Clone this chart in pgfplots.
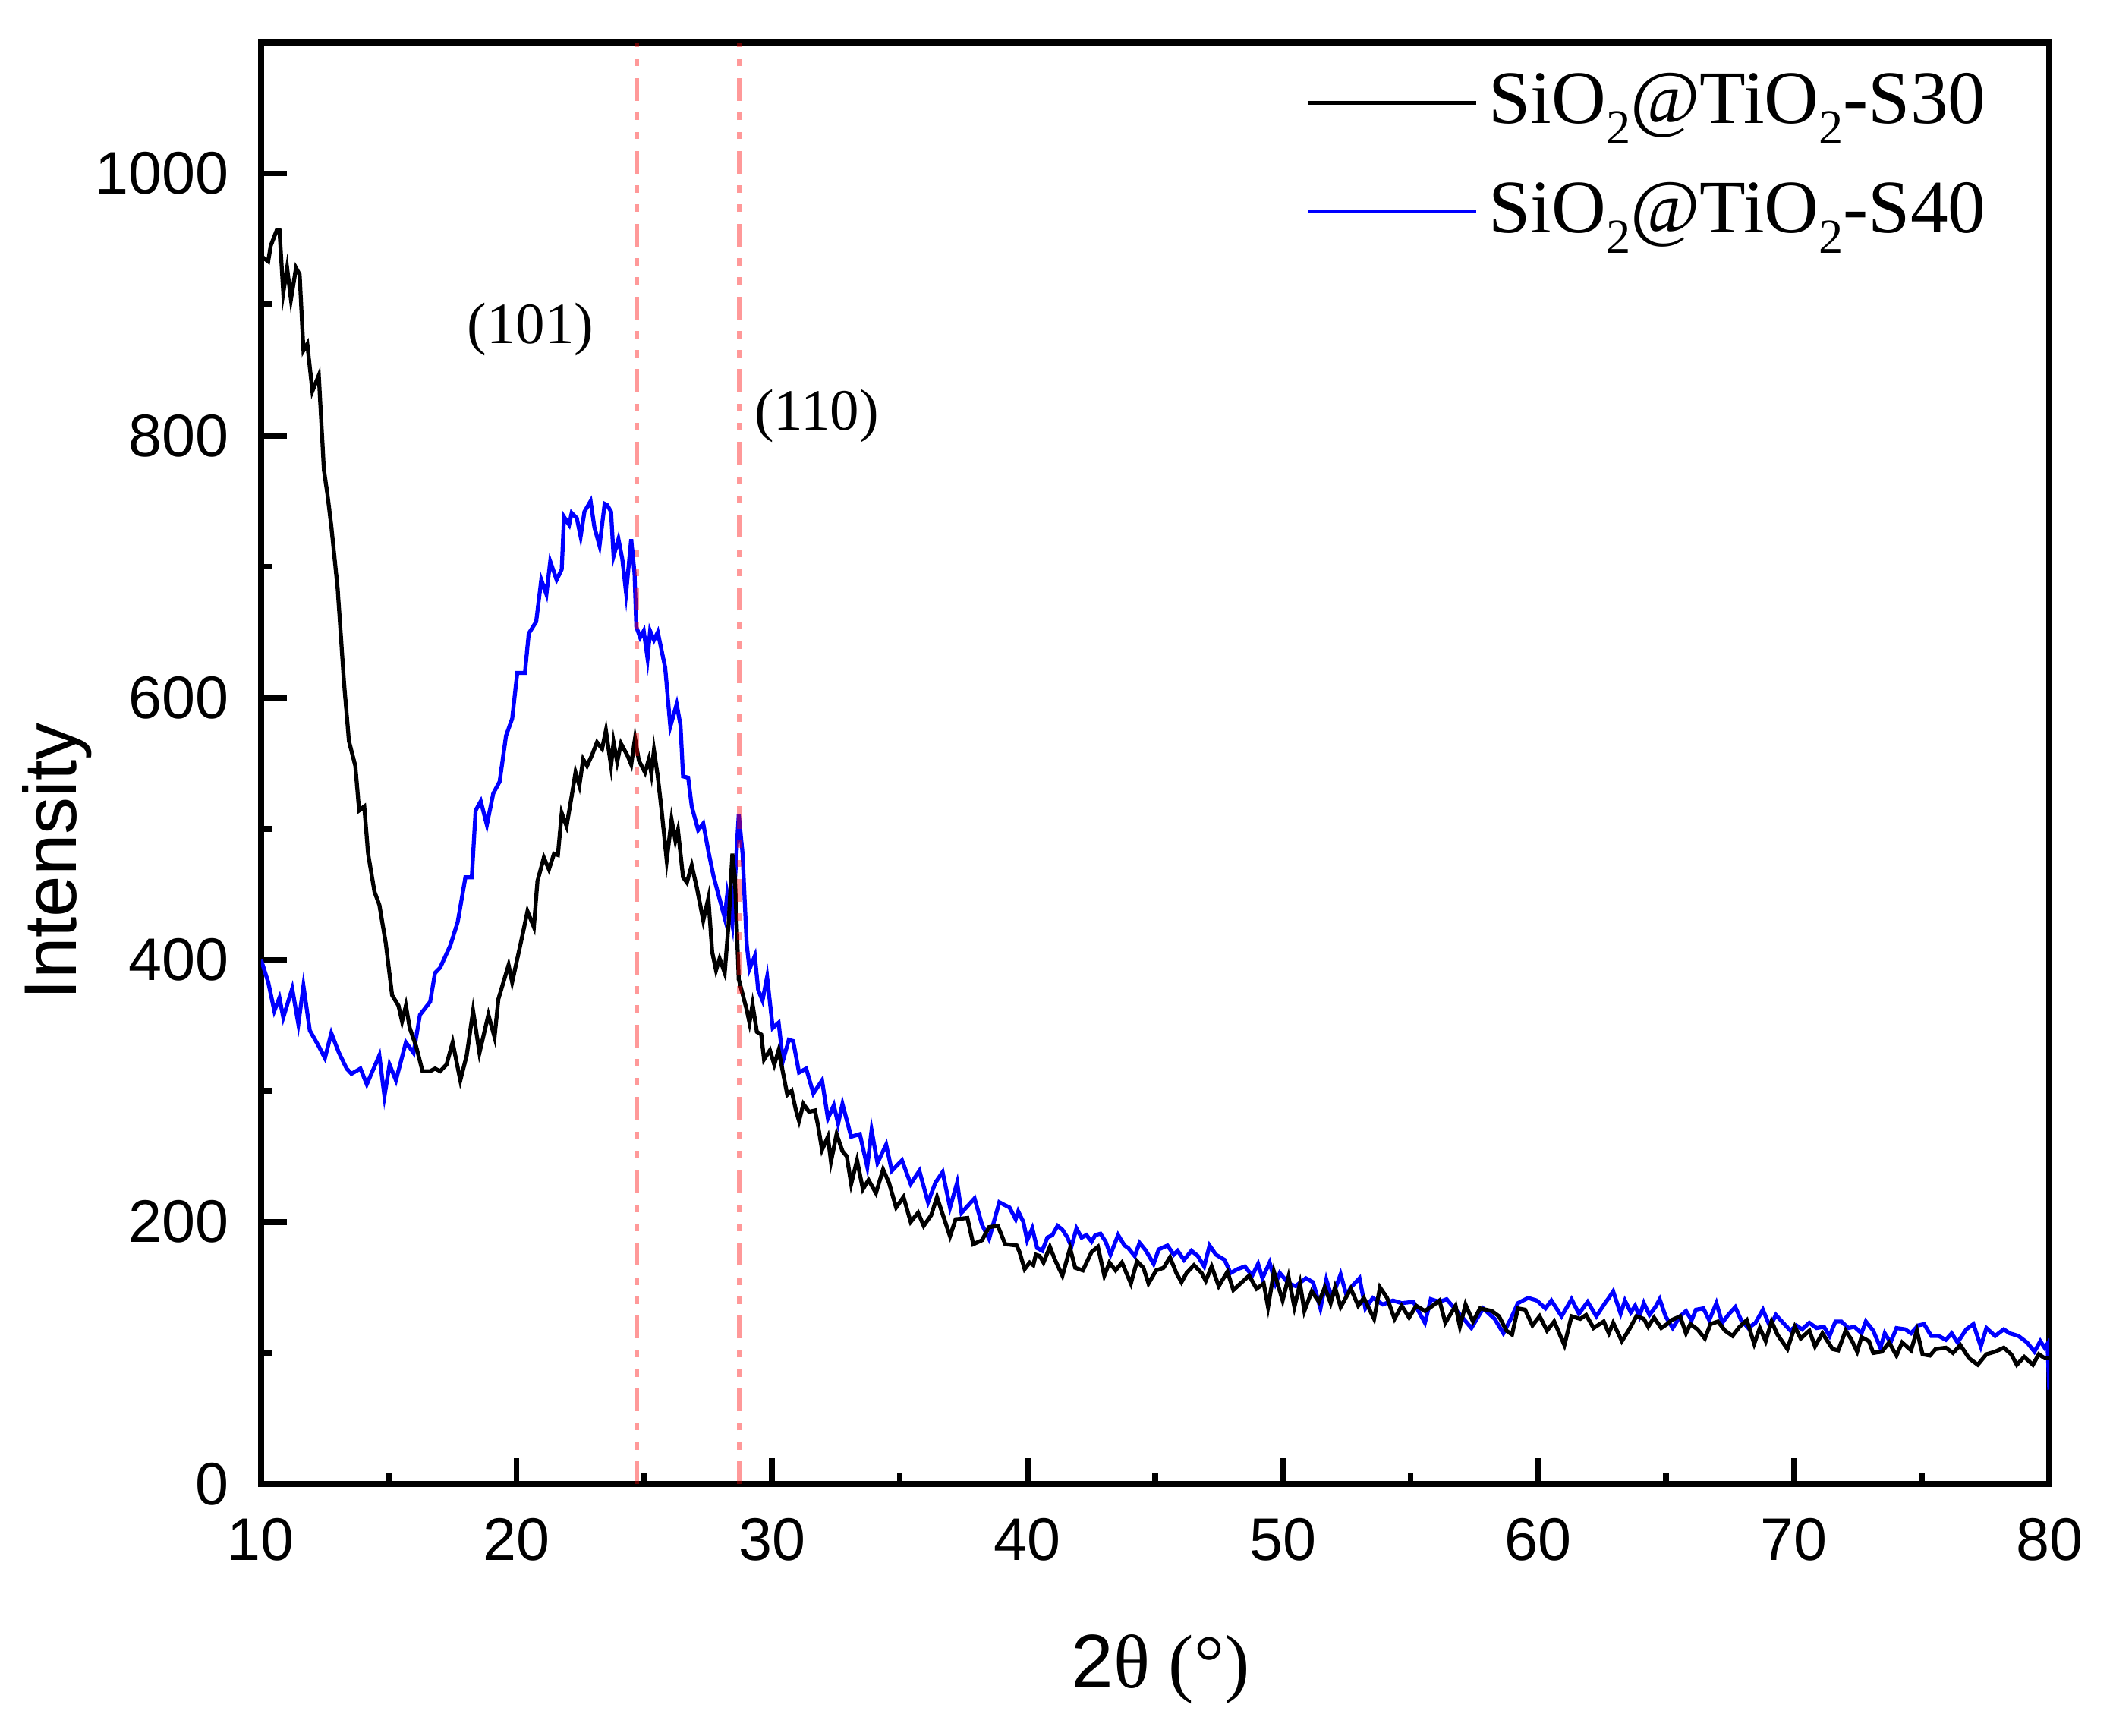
\documentclass[border=0pt]{standalone}
\usepackage{fontspec}
\setmainfont{Liberation Sans}
\newfontfamily\serif{Liberation Serif}
\usepackage{pgfplots}
\pgfplotsset{compat=1.18}
\newcommand{\low}[1]{\raisebox{-0.27em}{\fontsize{9.2}{10}\selectfont #1}}

\pgfplotstableread{
x y
10.0 937
10.28 933
10.38 945
10.62 957
10.72 957
10.87 909
11.02 928
11.17 904
11.37 928
11.51 923
11.66 865
11.81 870
12.01 834
12.26 846
12.46 774
12.6 755
12.75 731
13.0 683
13.25 611
13.44 567
13.69 548
13.84 514
14.04 517
14.19 481
14.44 452
14.63 442
14.88 413
15.13 373
15.38 365
15.52 353
15.67 365
15.82 348
16.07 334
16.32 315
16.62 315
16.81 317
17.01 315
17.26 320
17.5 337
17.8 308
18.05 327
18.3 361
18.55 329
18.9 358
19.14 341
19.29 370
19.69 396
19.83 383
20.18 414
20.43 437
20.68 425
20.82 460
21.07 478
21.27 469
21.47 481
21.62 480
21.77 512
21.96 502
22.16 525
22.31 543
22.46 533
22.61 553
22.76 548
22.95 556
23.15 566
23.35 561
23.5 575
23.7 548
23.8 566
23.94 551
24.09 565
24.34 556
24.49 549
24.64 569
24.79 552
25.03 543
25.18 553
25.28 542
25.38 560
25.53 540
25.68 514
25.88 476
26.07 507
26.22 491
26.32 499
26.52 463
26.67 459
26.86 472
27.06 455
27.31 430
27.51 447
27.66 406
27.81 392
27.95 401
28.15 390
28.3 427
28.45 481
28.55 463
28.7 385
29.01 362
29.12 352
29.24 366
29.41 345
29.58 343
29.69 324
29.92 331
30.09 320
30.26 331
30.49 308
30.6 297
30.77 300
30.94 285
31.06 277
31.23 290
31.45 284
31.68 285
31.8 274
31.96 255
32.19 265
32.31 246
32.53 267
32.76 254
32.93 250
33.1 229
33.33 247
33.56 225
33.78 232
34.07 222
34.35 240
34.58 230
34.86 211
35.15 219
35.43 200
35.72 207
35.94 197
36.23 205
36.46 219
36.68 206
36.97 189
37.19 202
37.65 203
37.88 183
38.22 186
38.5 196
38.84 197
39.13 183
39.58 182
39.69 177
39.89 164
40.09 169
40.23 167
40.33 175
40.48 174
40.63 169
40.88 181
41.08 171
41.37 159
41.67 180
41.87 165
42.17 163
42.51 177
42.76 181
43.01 159
43.21 169
43.45 163
43.7 169
44.05 153
44.29 170
44.54 165
44.74 153
45.04 163
45.33 165
45.58 173
45.83 161
46.03 154
46.23 161
46.52 167
46.82 161
46.98 155
47.21 166
47.49 151
47.83 162
48.06 148
48.34 153
48.68 159
48.97 149
49.25 153
49.42 135
49.65 162
49.99 140
50.22 158
50.45 135
50.67 153
50.84 132
51.13 147
51.41 139
51.64 150
51.87 138
52.04 150
52.26 135
52.66 149
52.95 136
53.17 142
53.57 126
53.8 150
54.08 142
54.37 126
54.65 136
54.94 127
55.22 136
55.56 132
55.79 135
56.13 140
56.36 123
56.76 136
56.93 120
57.15 137
57.44 124
57.72 134
58.18 132
58.46 128
58.75 117
58.97 114
59.2 134
59.48 133
59.77 121
60.05 128
60.34 117
60.62 124
61.02 106
61.3 128
61.64 126
61.87 129
62.16 119
62.56 124
62.76 115
62.93 123
63.27 109
63.56 118
63.84 128
64.13 126
64.3 120
64.53 127
64.81 119
65.04 122
65.21 125
65.55 128
65.78 115
65.95 122
66.23 118
66.52 111
66.74 122
67.03 124
67.31 117
67.6 113
67.88 120
68.16 125
68.45 107
68.67 119
68.9 109
69.13 124
69.36 114
69.75 103
70.04 120
70.27 111
70.61 117
70.83 105
71.12 115
71.52 103
71.74 102
72.03 117
72.26 110
72.48 101
72.65 112
72.94 109
73.11 100
73.45 101
73.73 108
74.02 98
74.24 108
74.59 102
74.82 117
75.04 99
75.33 98
75.55 103
75.95 104
76.23 100
76.52 106
76.86 96
77.2 91
77.54 99
77.88 101
78.22 104
78.51 99
78.73 91
79.02 97
79.36 91
79.59 99
79.82 96
80.0 96
}\sthirty

\pgfplotstableread{
x y
10.0 400
10.28 383
10.52 361
10.72 371
10.87 356
11.22 378
11.46 351
11.66 380
11.91 346
12.26 334
12.5 325
12.75 344
13.05 329
13.35 317
13.54 313
13.89 317
14.14 305
14.63 327
14.83 296
15.03 320
15.28 308
15.67 337
15.97 329
16.22 358
16.62 368
16.81 390
17.01 394
17.41 411
17.7 429
18.0 463
18.25 463
18.4 514
18.6 521
18.84 503
19.09 527
19.34 536
19.59 571
19.83 584
20.03 619
20.33 619
20.48 649
20.77 658
20.97 690
21.17 679
21.32 704
21.57 690
21.77 698
21.86 738
22.06 732
22.16 741
22.36 737
22.51 723
22.66 742
22.9 750
23.05 730
23.25 716
23.45 748
23.55 747
23.7 742
23.8 708
23.99 721
24.14 706
24.29 680
24.49 721
24.62 695
24.69 654
24.84 646
24.98 651
25.13 630
25.23 651
25.38 644
25.53 650
25.82 623
26.02 578
26.27 595
26.42 579
26.52 540
26.72 539
26.86 517
27.11 499
27.31 504
27.51 483
27.71 464
27.9 450
28.15 432
28.25 450
28.45 427
28.7 511
28.85 481
29.01 412
29.12 393
29.33 403
29.46 377
29.63 369
29.81 387
30.03 348
30.26 352
30.43 323
30.66 339
30.83 338
31.06 314
31.34 317
31.62 298
31.96 308
32.19 279
32.42 289
32.59 275
32.76 290
33.1 265
33.44 267
33.73 242
33.9 270
34.13 245
34.47 259
34.69 239
35.09 247
35.43 229
35.77 239
36.11 215
36.4 230
36.68 238
36.97 211
37.25 230
37.42 207
37.93 218
38.22 198
38.5 187
38.9 215
39.3 211
39.54 202
39.64 208
39.84 200
39.99 186
40.19 195
40.38 180
40.58 178
40.78 188
40.98 190
41.18 197
41.37 194
41.57 188
41.72 181
41.92 195
42.12 188
42.31 190
42.51 185
42.66 190
42.86 191
43.06 185
43.25 175
43.55 190
43.8 182
43.95 180
44.2 174
44.39 184
44.64 178
44.94 168
45.14 179
45.48 182
45.73 175
45.88 178
46.13 171
46.42 178
46.67 174
46.92 166
47.13 182
47.38 175
47.72 171
47.95 161
48.23 164
48.51 166
48.8 159
49.03 168
49.2 157
49.48 169
49.71 153
49.88 161
50.22 153
50.5 151
50.9 157
51.18 154
51.47 134
51.7 156
51.92 142
52.26 160
52.49 144
52.66 150
53.0 157
53.23 134
53.52 142
53.91 137
54.31 140
54.65 138
55.11 139
55.56 123
55.79 141
56.13 139
56.41 141
56.81 132
57.38 119
57.84 134
58.29 126
58.63 115
58.92 126
59.2 138
59.6 142
59.94 140
60.28 134
60.51 140
60.91 128
61.3 141
61.59 130
61.93 139
62.27 128
62.61 138
62.76 142
62.93 147
63.22 130
63.39 140
63.62 131
63.79 136
63.96 128
64.13 138
64.35 129
64.58 135
64.75 141
64.98 128
65.26 119
65.55 128
65.78 132
66.0 125
66.17 133
66.46 134
66.69 125
66.97 138
67.2 123
67.43 129
67.71 135
67.94 125
68.22 119
68.5 123
68.79 133
69.07 120
69.3 129
69.58 123
69.87 117
70.1 121
70.32 118
70.61 123
70.89 119
71.18 120
71.4 113
71.63 124
71.86 124
72.14 119
72.37 120
72.65 115
72.82 124
73.11 117
73.39 104
73.56 115
73.79 108
74.02 119
74.36 118
74.59 115
74.87 121
75.1 122
75.38 113
75.67 113
75.95 110
76.18 115
76.41 108
76.75 118
77.03 122
77.32 105
77.54 119
77.88 113
78.22 118
78.45 115
78.79 113
79.13 108
79.42 101
79.65 109
79.82 104
79.93 107
80.0 72
}\sforty

\begin{document}
\begin{tikzpicture}
\begin{axis}[
    scale only axis,
    width=336.6pt, height=271.3pt,
    xmin=10, xmax=80, ymin=0, ymax=1100,
    xtick={10,20,...,80}, ytick={0,200,...,1000},
    minor x tick num=1, minor y tick num=1,
    xtick pos=left, ytick pos=left,
    tick align=inside,
    major tick length=4.8pt, minor tick length=2.2pt,
    axis line style={line width=1.1pt},
    every tick/.style={black, line width=1.1pt},
    /pgf/number format/1000 sep={},
    /pgf/number format/assume math mode=true,
    ticklabel style={font=\fontsize{11.3}{13}\selectfont},
    xticklabel style={yshift=-3pt},
    yticklabel style={xshift=-2.5pt},
    ylabel={Intensity},
    ylabel style={at={(axis description cs:-0.114,0.432)}, anchor=center,
        font=\fontsize{14}{16}\selectfont},
    xlabel={2{\serif θ (°)}},
    xlabel style={at={(axis description cs:0.503,-0.1416)}, anchor=base,
        font=\fontsize{14.3}{16}\selectfont},
    legend style={draw=none, fill=none, at={(axis description cs:0.98,0.994)},
        anchor=north east, font=\serif\fontsize{14.2}{16}\selectfont,
        row sep=5.5pt},
    legend cell align=left,
    legend image code/.code={\draw[#1] (0pt,0pt) -- (31.7pt,0pt);},
    reverse legend,
]
\addplot[blue, line width=0.75pt] table {\sforty};
\addlegendentry{SiO\low{2}@TiO\low{2}-S40}
\addplot[black, line width=0.75pt] table {\sthirty};
\addlegendentry{SiO\low{2}@TiO\low{2}-S30}
\addplot[red, opacity=0.4, line width=0.8pt, forget plot,
    dash pattern=on 4.3pt off 2.2pt on 1.4pt off 2.2pt on 1.4pt off 2.2pt]
    coordinates {(24.7,0) (24.7,1100)};
\addplot[red, opacity=0.4, line width=0.8pt, forget plot,
    dash pattern=on 4.3pt off 2.2pt on 1.4pt off 2.2pt on 1.4pt off 2.2pt]
    coordinates {(28.72,0) (28.72,1100)};
\node[font=\serif\fontsize{11}{13}\selectfont] at (axis cs:20.55,881) {(101)};
\node[font=\serif\fontsize{11}{13}\selectfont] at (axis cs:31.75,815) {(110)};
\end{axis}
\pgfresetboundingbox
\path ([shift={(-49.14pt,-47.43pt)}]current axis.south west) rectangle
      ([shift={(12pt,8pt)}]current axis.north east);
\end{tikzpicture}
\end{document}
